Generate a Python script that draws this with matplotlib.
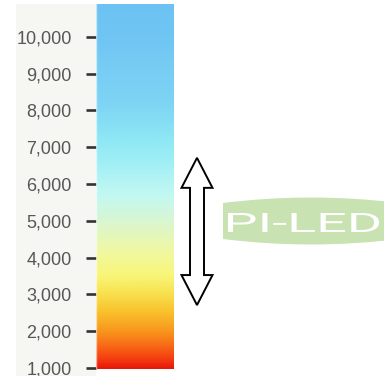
import numpy as np
import matplotlib
matplotlib.use("Agg")
import matplotlib.pyplot as plt
from matplotlib.colors import LinearSegmentedColormap
from matplotlib.patches import Rectangle, Polygon, PathPatch
from matplotlib.path import Path
from matplotlib.textpath import TextPath
from matplotlib.font_manager import FontProperties
from matplotlib.transforms import Affine2D

# colour temperature scale (kelvin)
tick_values = [1000, 2000, 3000, 4000, 5000, 6000, 7000, 8000, 9000, 10000]
tick_labels = ["1,000", "2,000", "3,000", "4,000", "5,000",
               "6,000", "7,000", "8,000", "9,000", "10,000"]
scale_range = [973, 10890]
# gradient stops: kelvin -> colour
stop_values = [973, 1200, 1600, 2000, 2500, 3000, 3500, 4200, 5000, 5700, 6500, 7200, 8200, 10000, 10890]
stop_colors = ["#e81808", "#f43a10", "#f86c16", "#f8981e", "#f8c02c", "#f8e04e", "#f8f678",
               "#f0f8a4", "#d8f6d2", "#c2f8f2", "#a4f0f6", "#8ee8f4", "#7ed4f4", "#70c6f2", "#6cc2f2"]
# range marked by the double arrow
arrow_range = [2710, 6710]
logo_text = "PI-LED"

W, H = 384, 376
fig = plt.figure(figsize=(W / 100, H / 100), dpi=100)

# overlay in pixel units (y up) for the decorations
over = fig.add_axes([0, 0, 1, 1], zorder=0)
over.set_xlim(0, W)
over.set_ylim(0, H)
over.axis("off")
over.add_patch(Rectangle((16, 0), 80, 372, color="#f6f6f3", lw=0))

# the gradient bar
bx0, bx1, by0, by1 = 96, 174, 7, 372
ax = fig.add_axes([bx0 / W, by0 / H, (bx1 - bx0) / W, (by1 - by0) / H], zorder=2)
vmin, vmax = scale_range
cmap = LinearSegmentedColormap.from_list(
    "cct", [((v - vmin) / (vmax - vmin), c) for v, c in zip(stop_values, stop_colors)])
grad = np.linspace(vmin, vmax, 600).reshape(-1, 1)
ax.imshow(grad, extent=[0, 1, vmin, vmax], origin="lower", aspect="auto",
          cmap=cmap, vmin=vmin, vmax=vmax, interpolation="bilinear")
ax.set_xlim(0, 1)
ax.set_ylim(vmin, vmax)
ax.set_xticks([])
ax.set_yticks(tick_values)
ax.set_yticklabels(tick_labels, fontfamily="Liberation Sans", fontsize=13, color="#575757")
ax.tick_params(axis="y", direction="out", length=7.5, width=1.9, color="#333333", pad=10)
for s in ax.spines.values():
    s.set_visible(False)
ax.axvline(0.005, color="#ffffff", lw=1, alpha=0.6)


def val_to_px(v):
    return by0 + (v - vmin) / (vmax - vmin) * (by1 - by0)


# double headed arrow
cx, shaft, head, hl = 197, 7, 15.5, 30
yb, yt = val_to_px(arrow_range[0]), val_to_px(arrow_range[1])
pts = [(cx, yt), (cx + head, yt - hl), (cx + shaft, yt - hl), (cx + shaft, yb + hl),
       (cx + head, yb + hl), (cx, yb), (cx - head, yb + hl), (cx - shaft, yb + hl),
       (cx - shaft, yt - hl), (cx - head, yt - hl)]
over.add_patch(Polygon(pts, closed=True, facecolor="white", edgecolor="black", lw=1.4))

# logo badge
top, bot = H - 203, H - 239
verts = [(223, bot), (223, top), (310, H - 192), (400, top), (400, bot), (310, H - 250), (223, bot)]
codes = [Path.MOVETO, Path.LINETO, Path.CURVE3, Path.CURVE3, Path.LINETO, Path.CURVE3, Path.CURVE3]
over.add_patch(PathPatch(Path(verts, codes), facecolor="#c8e2b2", edgecolor="none"))

tp = TextPath((0, 0), logo_text, size=26, prop=FontProperties(family="Roboto", weight="normal"))
bb = tp.get_extents()
tx0, tx1, ty0, ty1 = 228, 379, H - 232, H - 213
tr = (Affine2D().translate(-bb.x0, -bb.y0)
      .scale((tx1 - tx0) / bb.width, (ty1 - ty0) / bb.height)
      .translate(tx0, ty0))
over.add_patch(PathPatch(tr.transform_path(tp), facecolor="white", edgecolor="none"))

fig.savefig("out.png", dpi=100)
